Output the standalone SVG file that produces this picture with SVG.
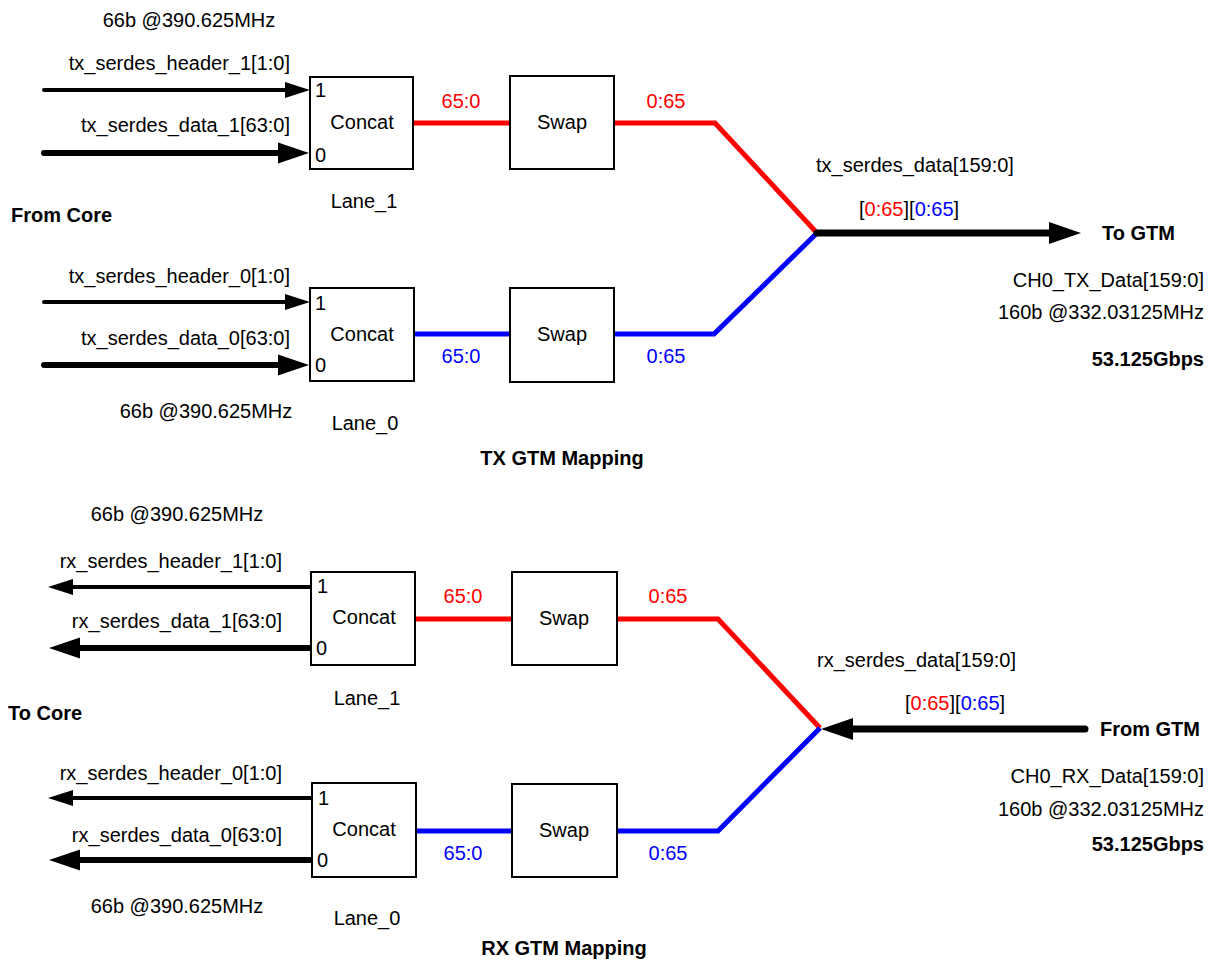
<svg xmlns="http://www.w3.org/2000/svg" width="1218" height="960" viewBox="0 0 1218 960">
<style>
text{font-family:"Liberation Sans",Arial,sans-serif;font-size:20px;fill:#000}
.b{font-weight:bold}
.e{text-anchor:end}
.m{text-anchor:middle}
.r{fill:#ff0000}
.u{fill:#0000ff}
.box{fill:#fff;stroke:#000;stroke-width:2}
.thin{stroke:#000;stroke-width:4;fill:none;stroke-linecap:round}
.thick{stroke:#000;stroke-width:6;fill:none;stroke-linecap:round}
.bus{stroke:#000;stroke-width:7;fill:none;stroke-linecap:round}
.red{stroke:#ff0000;stroke-width:5;fill:none;stroke-linejoin:miter}
.blue{stroke:#0000ff;stroke-width:5;fill:none;stroke-linejoin:miter}
</style>
<defs>
<marker id="ah1" markerUnits="userSpaceOnUse" markerWidth="26" markerHeight="18" refX="0" refY="8" orient="auto" overflow="visible"><polygon points="0,0 25,8 0,16" fill="#000"/></marker>
<marker id="ah2" markerUnits="userSpaceOnUse" markerWidth="32" markerHeight="22" refX="0" refY="10.5" orient="auto" overflow="visible"><polygon points="0,0 31,10.5 0,21" fill="#000"/></marker>
<marker id="ah3" markerUnits="userSpaceOnUse" markerWidth="34" markerHeight="24" refX="0" refY="11" orient="auto" overflow="visible"><polygon points="0,0 32,11 0,22" fill="#000"/></marker>
</defs>

<g id="connectors">
<!-- TX inputs -->
<line class="thin" x1="44" y1="90" x2="285" y2="90" marker-end="url(#ah1)"/>
<line class="thick" x1="44" y1="153" x2="278" y2="153" marker-end="url(#ah2)"/>
<line class="thin" x1="44" y1="302" x2="285" y2="302" marker-end="url(#ah1)"/>
<line class="thick" x1="44" y1="365" x2="278" y2="365" marker-end="url(#ah2)"/>
<!-- TX lanes -->
<line class="red" x1="413" y1="123" x2="510" y2="123"/>
<polyline class="red" points="614,123 715,123 817,233"/>
<line class="blue" x1="414" y1="334" x2="510" y2="334"/>
<polyline class="blue" points="614,334 714,334 817,233"/>
<line class="bus" x1="817" y1="233" x2="1049" y2="233" marker-end="url(#ah3)"/>
<!-- RX outputs -->
<line class="thin" x1="311" y1="587" x2="73" y2="587" marker-end="url(#ah1)"/>
<line class="thick" x1="311" y1="648" x2="80" y2="648" marker-end="url(#ah2)"/>
<line class="thin" x1="312" y1="798" x2="73" y2="798" marker-end="url(#ah1)"/>
<line class="thick" x1="312" y1="860" x2="80" y2="860" marker-end="url(#ah2)"/>
<!-- RX lanes -->
<line class="red" x1="415" y1="619" x2="512" y2="619"/>
<polyline class="red" points="617,619 718,619 820,728"/>
<line class="blue" x1="416" y1="831" x2="512" y2="831"/>
<polyline class="blue" points="617,831 718,831 820,728"/>
<line class="bus" x1="1085" y1="729" x2="853" y2="729" marker-end="url(#ah3)"/>
</g>

<g id="tx-labels">
<text class="m" x="189" y="27">66b @390.625MHz</text>
<text class="e" x="290" y="70">tx_serdes_header_1[1:0]</text>
<text class="e" x="290" y="132">tx_serdes_data_1[63:0]</text>
<text class="b" x="11" y="222">From Core</text>
<text class="e" x="290" y="283">tx_serdes_header_0[1:0]</text>
<text class="e" x="290" y="345">tx_serdes_data_0[63:0]</text>
<text class="m" x="206" y="418">66b @390.625MHz</text>
<text class="r m" x="461" y="108">65:0</text>
<text class="r m" x="666" y="108">0:65</text>
<text class="u m" x="461" y="363">65:0</text>
<text class="u m" x="666" y="363">0:65</text>
<text x="816" y="172">tx_serdes_data[159:0]</text>
<text x="859" y="216">[<tspan class="r">0:65</tspan>][<tspan class="u">0:65</tspan>]</text>
<text class="b" x="1102" y="240">To GTM</text>
<text class="e" x="1204" y="287">CH0_TX_Data[159:0]</text>
<text class="e" x="1204" y="319">160b @332.03125MHz</text>
<text class="b e" x="1204" y="366">53.125Gbps</text>
<text class="b m" x="562" y="465">TX GTM Mapping</text>
</g>

<g id="tx-concat-1">
<rect class="box" x="310" y="77" width="103" height="92"/>
<text x="315" y="97">1</text>
<text x="315" y="162">0</text>
<text class="m" x="362" y="129">Concat</text>
<text class="m" x="364" y="208">Lane_1</text>
</g>
<g id="tx-swap-1">
<rect class="box" x="510" y="76" width="104" height="93"/>
<text class="m" x="562" y="129">Swap</text>
</g>
<g id="tx-concat-0">
<rect class="box" x="310" y="288" width="104" height="93"/>
<text x="315" y="310">1</text>
<text x="315" y="372">0</text>
<text class="m" x="362" y="341">Concat</text>
<text class="m" x="365" y="430">Lane_0</text>
</g>
<g id="tx-swap-0">
<rect class="box" x="510" y="288" width="104" height="94"/>
<text class="m" x="562" y="341">Swap</text>
</g>

<g id="rx-labels">
<text class="m" x="177" y="521">66b @390.625MHz</text>
<text class="e" x="282" y="568">rx_serdes_header_1[1:0]</text>
<text class="e" x="282" y="628">rx_serdes_data_1[63:0]</text>
<text class="b" x="8" y="720">To Core</text>
<text class="e" x="282" y="780">rx_serdes_header_0[1:0]</text>
<text class="e" x="282" y="842">rx_serdes_data_0[63:0]</text>
<text class="m" x="177" y="913">66b @390.625MHz</text>
<text class="r m" x="463" y="603">65:0</text>
<text class="r m" x="668" y="603">0:65</text>
<text class="u m" x="463" y="860">65:0</text>
<text class="u m" x="668" y="860">0:65</text>
<text x="817" y="667">rx_serdes_data[159:0]</text>
<text x="905" y="710">[<tspan class="r">0:65</tspan>][<tspan class="u">0:65</tspan>]</text>
<text class="b" x="1100" y="736">From GTM</text>
<text class="e" x="1204" y="783">CH0_RX_Data[159:0]</text>
<text class="e" x="1204" y="816">160b @332.03125MHz</text>
<text class="b e" x="1204" y="851">53.125Gbps</text>
<text class="b m" x="564" y="955">RX GTM Mapping</text>
</g>

<g id="rx-concat-1">
<rect class="box" x="311" y="572" width="104" height="93"/>
<text x="317" y="593">1</text>
<text x="316" y="655">0</text>
<text class="m" x="364" y="624">Concat</text>
<text class="m" x="367" y="705">Lane_1</text>
</g>
<g id="rx-swap-1">
<rect class="box" x="512" y="572" width="105" height="93"/>
<text class="m" x="564" y="625">Swap</text>
</g>
<g id="rx-concat-0">
<rect class="box" x="312" y="783" width="104" height="94"/>
<text x="318" y="805">1</text>
<text x="317" y="867">0</text>
<text class="m" x="364" y="836">Concat</text>
<text class="m" x="367" y="925">Lane_0</text>
</g>
<g id="rx-swap-0">
<rect class="box" x="512" y="784" width="105" height="93"/>
<text class="m" x="564" y="837">Swap</text>
</g>
</svg>
